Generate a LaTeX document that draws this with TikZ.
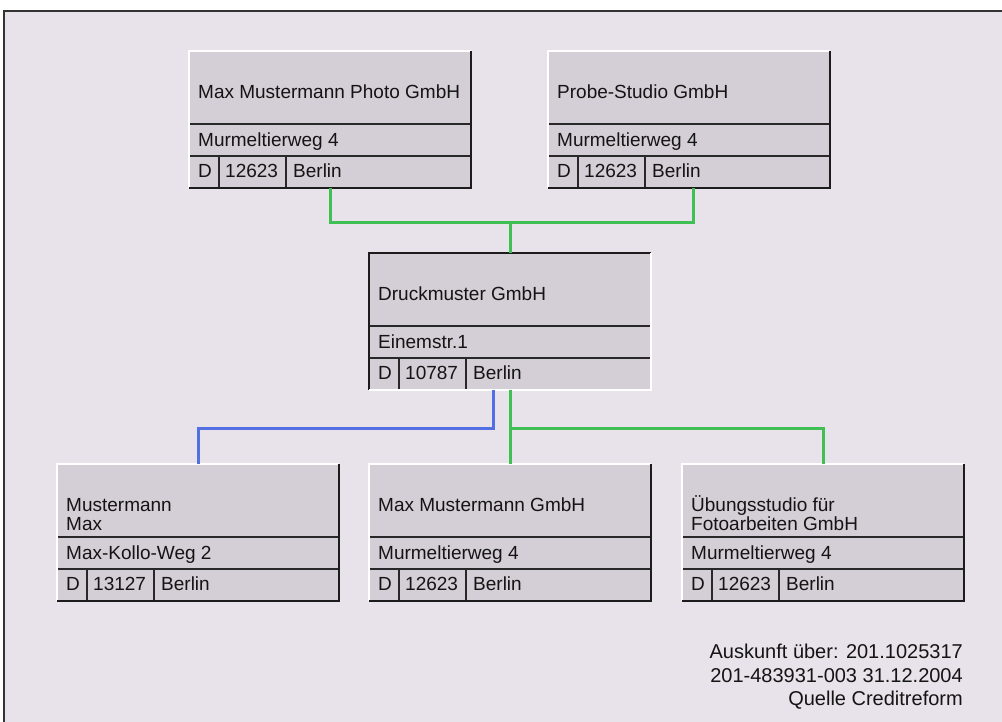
\documentclass[tikz,border=0pt]{standalone}
\usepackage{fontspec}
\setmainfont{Liberation Sans}
\usetikzlibrary{calc}
\definecolor{bg}{RGB}{232,226,234}
\definecolor{boxfill}{RGB}{212,206,214}
\definecolor{edge}{RGB}{28,28,28}
\definecolor{divc}{RGB}{40,40,40}
\definecolor{lgreen}{RGB}{64,192,84}
\definecolor{lblue}{RGB}{82,112,226}
\tikzset{
  boxnode/.style={rectangle, fill=boxfill, minimum width=282pt, minimum height=137pt, inner sep=0pt, outer sep=0pt},
  txt/.style={font=\fontsize{19}{19}\selectfont, text=black!92, inner sep=0pt, anchor=base west},
  divline/.style={draw=divc, line width=1.7pt},
  hiedge/.style={draw=white, line width=1.5pt},
  loedge/.style={draw=edge, line width=2.2pt},
  gconn/.style={draw=lgreen, line width=3pt},
  bconn/.style={draw=lblue, line width=3pt},
  notetxt/.style={font=\fontsize{20}{20}\selectfont, text=black!92, inner sep=0pt, anchor=base east}
}
% #1 name, #2 left, #3 top, #4 title line, #5 street, #6 zip, #7 style for top/left edge, #8 style for bottom/right edge
\newcommand{\firmbox}[8]{%
  \node[boxnode, anchor=north west] (#1) at (#2,#3) {};
  \draw[divline] ($(#1.north west)+(0,73)$) -- ($(#1.north east)+(0,73)$);
  \draw[divline] ($(#1.north west)+(0,105)$) -- ($(#1.north east)+(0,105)$);
  \draw[divline] ($(#1.north west)+(30,105)$) -- ($(#1.south west)+(30,0)$);
  \draw[divline] ($(#1.north west)+(97,105)$) -- ($(#1.south west)+(97,0)$);
  \draw[#7] (#1.south west) -- (#1.north west) -- (#1.north east);
  \draw[#8] (#1.north east) -- (#1.south east) -- (#1.south west);
  \node[txt] (#1-title) at ($(#1.north west)+(9,47)$) {#4};
  \node[txt] (#1-street) at ($(#1.north west)+(9,95)$) {#5};
  \node[txt] (#1-land) at ($(#1.north west)+(9,126)$) {D};
  \node[txt] (#1-zip) at ($(#1.north west)+(36,126)$) {#6};
  \node[txt] (#1-city) at ($(#1.north west)+(104,126)$) {Berlin};
}
\begin{document}
\begin{tikzpicture}[x=1pt,y=-1pt]
\useasboundingbox (0,0) rectangle (1002,721);
\fill[white] (0,0) rectangle (1002,721);
\draw[draw=black!80, line width=1.5pt, fill=bg] (4,11) rectangle (1030,760);

\firmbox{b1}{189}{51}{Max Mustermann Photo GmbH}{Murmeltierweg 4}{12623}{hiedge}{loedge}
\firmbox{b2}{548}{51}{Probe-Studio GmbH}{Murmeltierweg 4}{12623}{hiedge}{loedge}
\firmbox{c}{369}{253}{Druckmuster GmbH}{Einemstr.1}{10787}{loedge}{hiedge}
\firmbox{bl}{57}{464}{Mustermann}{Max-Kollo-Weg 2}{13127}{hiedge}{loedge}
\firmbox{bm}{369}{464}{Max Mustermann GmbH}{Murmeltierweg 4}{12623}{hiedge}{loedge}
\firmbox{br}{682}{464}{Übungsstudio für}{Murmeltierweg 4}{12623}{hiedge}{loedge}
\node[txt] (bl-title2) at ($(bl.north west)+(9,66)$) {Max};
\node[txt] (br-title2) at ($(br.north west)+(9,66)$) {Fotoarbeiten GmbH};

% connectors top
\coordinate (b2in) at ($(b2.south)+(4,0)$);
\draw[gconn] (b1.south) |- ($(b2in)+(0,34)$) -- (b2in);
\draw[gconn] (c.north) -- ($(c.north)+(0,-31)$);
% connectors bottom
\coordinate (cblue) at ($(c.south)+(-17,0)$);
\draw[bconn] (cblue) |- ($(bl.north)+(0,-36)$) -- (bl.north);
\draw[gconn] (c.south) -- (bm.north);
\draw[gconn] ($(bm.north)+(0,-36)$) -| (br.north);

% notes
\node[notetxt] (n1) at (963,658) {Auskunft über: 201.1025317};
\node[notetxt] (n2) at (963,682) {201-483931-003 31.12.2004};
\node[notetxt] (n3) at (963,705) {Quelle Creditreform};
\end{tikzpicture}
\end{document}
